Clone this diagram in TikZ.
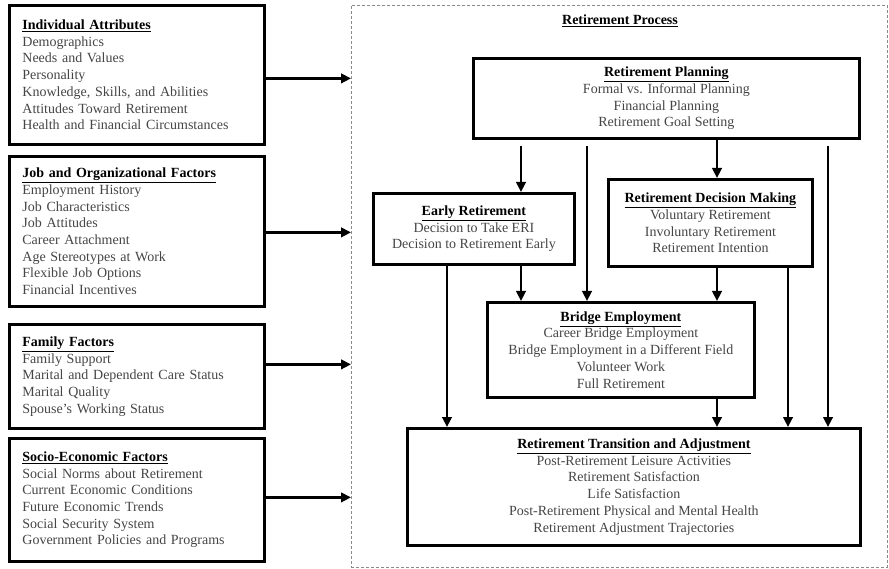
\documentclass[tikz,border=0pt]{standalone}
\usepackage{fontspec}
\setmainfont{Liberation Serif}
\usetikzlibrary{arrows.meta,calc}
\definecolor{itemgray}{HTML}{454545}
\definecolor{dashgray}{HTML}{8A8A8A}
\newcommand{\hd}[1]{{\color{black}\underline{\textbf{#1}}}}
\begin{document}
\begin{tikzpicture}[x=1pt,y=-1pt,
  box/.style={draw, line width=2.8pt, inner ysep=0pt, font=\fontsize{14}{16.7}\selectfont, text=itemgray},
  leftbox/.style={box, anchor=north west, align=left, text width=229pt, inner xsep=13pt},
  midbox/.style={box, anchor=north west, align=center, inner xsep=0pt},
  arr/.style={line width=2.6pt, -{Triangle[length=10pt,width=9.5pt]}},
  ln/.style={line width=2.6pt}]
\useasboundingbox (0,0) rectangle (889,569);

% process frame
\node[draw=dashgray, line width=0.8pt, dash pattern=on 3pt off 2pt, anchor=north west,
      minimum width=536pt, minimum height=562pt, inner sep=0pt] (proc) at (351,5) {};
\node[font=\fontsize{14}{16.7}\selectfont, inner sep=0pt] (proctitle) at (620,21) {\hd{Retirement Process}};

% left boxes
\node[leftbox, minimum height=139pt] (ia) at (8,4) {\hd{Individual Attributes}\\Demographics\\Needs and Values\\Personality\\Knowledge, Skills, and Abilities\\Attitudes Toward Retirement\\Health and Financial Circumstances};
\node[leftbox, minimum height=150pt] (job) at (8,155) {\hd{Job and Organizational Factors}\\Employment History\\Job Characteristics\\Job Attitudes\\Career Attachment\\Age Stereotypes at Work\\Flexible Job Options\\Financial Incentives};
\node[leftbox, minimum height=104pt] (fam) at (8,323) {\hd{Family Factors}\\Family Support\\Marital and Dependent Care Status\\Marital Quality\\Spouse’s Working Status};
\node[leftbox, minimum height=123pt] (soc) at (8,437) {\hd{Socio-Economic Factors}\\Social Norms about Retirement\\Current Economic Conditions\\Future Economic Trends\\Social Security System\\Government Policies and Programs};

% process boxes
\node[midbox, minimum width=386pt, minimum height=80pt] (rp) at (472,57) {\hd{Retirement Planning}\\Formal vs. Informal Planning\\Financial Planning\\Retirement Goal Setting};
\node[midbox, minimum width=201pt, minimum height=71pt] (er) at (372,192) {\hd{Early Retirement}\\Decision to Take ERI\\Decision to Retirement Early};
\node[midbox, minimum width=204pt, minimum height=87pt] (dm) at (607,178) {\hd{Retirement Decision Making}\\Voluntary Retirement\\Involuntary Retirement\\Retirement Intention};
\node[midbox, minimum width=267pt, minimum height=95pt] (be) at (486,301) {\hd{Bridge Employment}\\Career Bridge Employment\\Bridge Employment in a Different Field\\Volunteer Work\\Full Retirement};
\node[midbox, minimum width=453pt, minimum height=117pt] (rta) at (406,427) {\hd{Retirement Transition and Adjustment}\\Post-Retirement Leisure Activities\\Retirement Satisfaction\\Life Satisfaction\\Post-Retirement Physical and Mental Health\\Retirement Adjustment Trajectories};

% left arrows
\coordinate (iaout) at ([yshift=-3.5pt]ia.east);
\coordinate (jobout) at ([yshift=-1pt]job.east);
\coordinate (famout) at ([yshift=12pt]fam.east);
\coordinate (socout) at ([yshift=2.5pt]soc.east);
\draw[arr] (iaout) -- (iaout -| proc.west);
\draw[arr] (jobout) -- (jobout -| proc.west);
\draw[arr] (famout) -- (famout -| proc.west);
\draw[arr] (socout) -- (socout -| proc.west);

% vertical columns
\coordinate (xa) at (447,0);
\coordinate (xb) at (521,0);
\coordinate (xc) at (587,0);
\coordinate (xd) at (717,0);
\coordinate (xe) at (788,0);
\coordinate (xf) at (828,0);
\coordinate (rpb) at ([yshift=-6pt]rp.south);

\draw[arr] (rpb -| xb) -- (xb |- er.north);
\draw[arr] (rpb -| xc) -- (xc |- be.north);
\draw[arr] (xd |- rp.south) -- (xd |- dm.north);
\draw[arr] (rpb -| xf) -- (xf |- rta.north);
\draw[arr] (xa |- er.south) -- (xa |- rta.north);
\draw[arr] (xb |- er.south) -- (xb |- be.north);
\draw[arr] (xd |- dm.south) -- (xd |- be.north);
\draw[arr] (xe |- dm.south) -- (xe |- rta.north);
\draw[arr] (xd |- be.south) -- (xd |- rta.north);
\end{tikzpicture}
\end{document}
